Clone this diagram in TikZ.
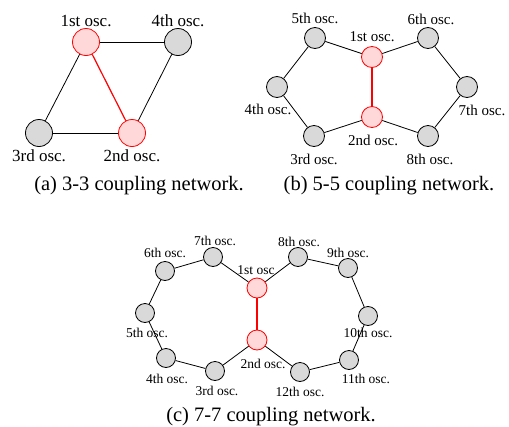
\documentclass[tikz,border=0pt]{standalone}
\usepackage{fontspec}
\setmainfont{Liberation Serif}
\begin{document}
\begin{tikzpicture}[x=1pt,y=-1pt,
  osc/.style={circle, draw=black, fill=gray!30, line width=0.8pt, inner sep=0pt, minimum size=#1},
  rosc/.style={circle, draw=red, fill=red!15, line width=0.8pt, inner sep=0pt, minimum size=#1},
  edge/.style={draw=black, line width=0.8pt},
  redge/.style={draw=red, line width=1.2pt},
  laba/.style={font=\fontsize{17}{17}\selectfont, inner sep=0pt},
  labb/.style={font=\fontsize{15}{15}\selectfont, inner sep=0pt},
  labc/.style={font=\fontsize{13.5}{13.5}\selectfont, inner sep=0pt},
  captxt/.style={font=\fontsize{20.5}{20.5}\selectfont, inner sep=0pt}]
\useasboundingbox (0,0) rectangle (509,426);
% ---------- (a)
\node[rosc=27pt] (a1) at (86,42) {};
\node[osc=27pt] (a4) at (178,42) {};
\node[osc=27pt] (a3) at (39,133) {};
\node[rosc=27pt] (a2) at (132,133) {};
\draw[edge] (a1) -- (a4);
\draw[edge] (a4) -- (a2);
\draw[edge] (a1) -- (a3);
\draw[edge] (a3) -- (a2);
\draw[redge] (a1) -- (a2);
\node[laba] (la1) at (86,21) {1st osc.};
\node[laba] (la4) at (178,21) {4th osc.};
\node[laba] (la3) at (39,156) {3rd osc.};
\node[laba] (la2) at (132,156) {2nd osc.};
\node[captxt] (capa) at (139,186) {(a) 3-3 coupling network.};
% ---------- (b)
\node[rosc=21pt] (b1) at (372,57) {};
\node[rosc=21pt] (b2) at (372,117) {};
\node[osc=21pt] (b5) at (315,38) {};
\node[osc=21pt] (b6) at (428,38) {};
\node[osc=21pt] (b4) at (277,87) {};
\node[osc=21pt] (b7) at (467,87) {};
\node[osc=21pt] (b3) at (314,136) {};
\node[osc=21pt] (b8) at (428,136) {};
\draw[edge] (b1) -- (b5);
\draw[edge] (b5) -- (b4);
\draw[edge] (b4) -- (b3);
\draw[edge] (b3) -- (b2);
\draw[edge] (b1) -- (b6);
\draw[edge] (b6) -- (b7);
\draw[edge] (b7) -- (b8);
\draw[edge] (b8) -- (b2);
\draw[redge] (b1) -- (b2);
\node[labb] (lb5) at (315,18) {5th osc.};
\node[labb] (lb6) at (431,19) {6th osc.};
\node[labb] (lb1) at (372,37) {1st osc.};
\node[labb] (lb4) at (268,109) {4th osc.};
\node[labb] (lb7) at (482,110) {7th osc.};
\node[labb] (lb2) at (373,140) {2nd osc.};
\node[labb] (lb3) at (314,159) {3rd osc.};
\node[labb] (lb8) at (430,159) {8th osc.};
\node[captxt] (capb) at (389,186) {(b) 5-5 coupling network.};
% ---------- (c)
\node[rosc=20pt] (c1) at (257,288) {};
\node[rosc=20pt] (c2) at (257,340) {};
\node[osc=19pt] (c7) at (213,257) {};
\node[osc=19pt] (c6) at (165,271) {};
\node[osc=19pt] (c5) at (145,313) {};
\node[osc=19pt] (c4) at (166,358) {};
\node[osc=19pt] (c3) at (215,371) {};
\node[osc=19pt] (c8) at (298,257) {};
\node[osc=19pt] (c9) at (348,268) {};
\node[osc=19pt] (c10) at (368,316) {};
\node[osc=19pt] (c11) at (349,360) {};
\node[osc=19pt] (c12) at (300,372) {};
\draw[edge] (c1) -- (c7);
\draw[edge] (c7) -- (c6);
\draw[edge] (c6) -- (c5);
\draw[edge] (c5) -- (c4);
\draw[edge] (c4) -- (c3);
\draw[edge] (c3) -- (c2);
\draw[edge] (c1) -- (c8);
\draw[edge] (c8) -- (c9);
\draw[edge] (c9) -- (c10);
\draw[edge] (c10) -- (c11);
\draw[edge] (c11) -- (c12);
\draw[edge] (c12) -- (c2);
\draw[redge] (c1) -- (c2);
\node[labc] (lc7) at (215,241) {7th osc.};
\node[labc] (lc6) at (165,253) {6th osc.};
\node[labc] (lc1) at (256,270) {1st osc};
\node[labc] (lc8) at (299,242) {8th osc.};
\node[labc] (lc9) at (348,253) {9th osc.};
\node[labc] (lc5) at (147,333) {5th osc.};
\node[labc] (lc10) at (368,333) {10th osc.};
\node[labc] (lc11) at (366,379) {11th osc.};
\node[labc] (lc4) at (167,379) {4th osc.};
\node[labc] (lc3) at (217,391) {3rd osc.};
\node[labc] (lc2) at (263,364) {2nd osc.};
\node[labc] (lc12) at (300,392) {12th osc.};
\node[captxt] (capc) at (271,417) {(c) 7-7 coupling network.};
\end{tikzpicture}
\end{document}
